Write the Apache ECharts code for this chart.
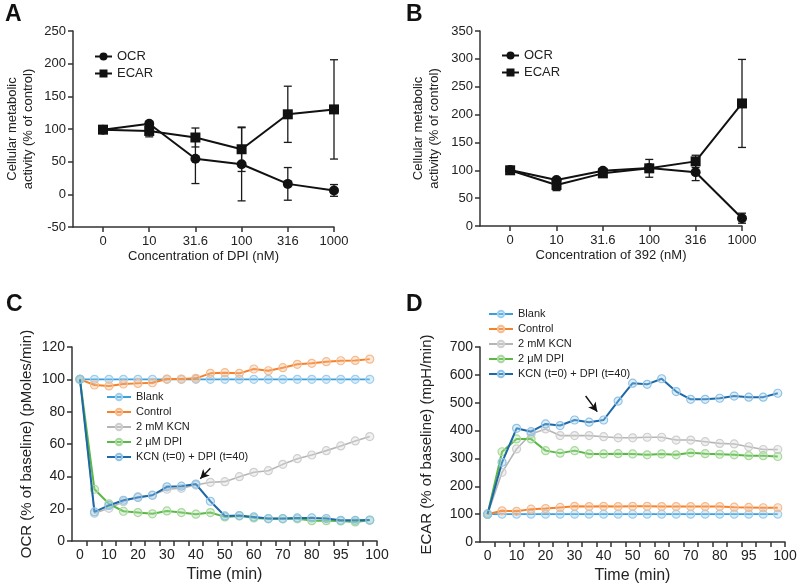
<!DOCTYPE html>
<html><head><meta charset="utf-8">
<script src="https://cdn.jsdelivr.net/npm/echarts@6/dist/echarts.min.js"></script>
<style>html,body{margin:0;padding:0;background:#fff}#c{width:800px;height:588px}</style>
</head><body><div id="c"></div>
<script>
// ---------- Panel A / B data ----------
const catsA = ['0','10','31.6','100','316','1000'];
const ocrA = [99, 108, 54.5, 46, 16, 6];
const ocrErrA = [0, 3, 38, 56, 25, 9];
const ecarA = [99, 97, 87, 69, 122.5, 130];
const ecarErrA = [0, 9, 14.5, 34, 43, 76];

const catsB = ['0','10','31.6','100','316','1000'];
const ocrB = [100.5, 82.5, 99, 104, 96.5, 14];
const ocrErrB = [0, 4, 3, 5, 15, 9];
const ecarB = [100, 73.5, 94.5, 103.5, 116, 220];
const ecarErrB = [0, 10, 4, 16, 11, 79];

// ---------- Panel C / D data ----------
const timeCD = [0,5,10,15,20,25,30,35,40,45,50,55,60,65,70,75,80,85,90,95,100];
const tickPosCD = [2.5,7.5,12.5,17.5,22.5,27.5,32.5,37.5,42.5,47.5,52.5,57.5,62.5,67.5,72.5,77.5,82.5,87.5,92.5,97.5,102.5];
const labelPosCD = [0,10,20,30,40,50,60,70,80,90,102.5];
const labelTextCD = ['0','10','20','30','40','50','60','70','80','95','100'];

const blankC = [100,100,100,100,100,100,100,100,100,100,100,100,100,100,100,100,100,100,100,100,100];
const controlC = [100,96.5,95.9,97.1,97.5,97.9,100.2,100.2,100.6,103.7,104.1,103.7,106.4,105.3,107.2,109.3,109.9,110.9,111.5,111.7,112.5];
const kcnC = [100,17.1,20.2,24.3,27.4,28.4,32,32.6,34.6,36.3,36.7,39.8,42.5,43.5,47.4,50.9,53.2,55.9,58.8,61.9,64.6];
const dpiC = [100,32,23,18.4,17.6,16.8,18.6,17.6,16.6,17.6,14.9,15.5,14.3,13.7,13.7,13.7,12.6,12.6,12.4,11.8,12.8];
const kcnDpiC = [100,18,22,25.2,26.9,28.3,33.5,33.9,35.2,24.6,15.5,15.7,14.9,13.9,13.9,14.3,14.3,13.9,12.8,12.8,13];
const arrowC = [[45,45],[41.5,38.5]];

const blankD = [100,100,100,100,100,100,100,100,100,100,100,100,100,100,100,100,100,100,100,100,100];
const controlD = [100,112,110,118,120,124,128,127,128,127,128,128,127,127,127,127,127,125,124,123,123];
const kcnD = [100,250,334,388,406,382,382,382,378,374,374,376,376,366,366,360,354,352,342,332,332];
const dpiD = [100,324,370,370,328,319,328,316,316,317,316,313,316,313,320,317,315,313,310,310,307];
const kcnDpiD = [100,286,408,396,424,418,438,430,438,506,570,566,586,540,512,512,516,524,520,520,534];
const arrowD = [[33.8,524],[37.8,468]];

const seriesNamesCD = ['Blank','Control','2 mM KCN','2 \u03bcM DPI','KCN (t=0) + DPI (t=40)'];

// ---------- styles ----------
const FONT = '"Liberation Sans", Arial, sans-serif';
const TXT = '#222';
const AX = '#333';
const styleCD = [
  {line:'#3b9fdc', border:'#9fcfee', fill:'rgba(160,205,238,0.35)', w:1.6},
  {line:'#f5822a', border:'#f6bb8e', fill:'rgba(246,190,150,0.35)', w:2},
  {line:'#b5b5b5', border:'#cfcfcf', fill:'rgba(215,215,215,0.35)', w:1.6},
  {line:'#5bb847', border:'#a8d99c', fill:'rgba(170,218,160,0.35)', w:2},
  {line:'#1d68a6', border:'#8fc3e6', fill:'rgba(160,205,238,0.35)', w:2}
];

const chart = echarts.init(document.getElementById('c'), null, {renderer:'canvas'});

function pairs(xs, ys){ return xs.map((x,i)=>[x, ys[i]]); }
function errData(vals, errs){ return vals.map((v,i)=>[i, v-errs[i], v+errs[i]]); }
function errRender(params, api){
  const x = api.value(0), lo = api.value(1), hi = api.value(2);
  const p1 = api.coord([x, hi]), p2 = api.coord([x, lo]);
  const w = 4, st = {stroke:'#1a1a1a', lineWidth:1.3};
  return {type:'group', children:[
    {type:'line', shape:{x1:p1[0],y1:p1[1],x2:p2[0],y2:p2[1]}, style:st},
    {type:'line', shape:{x1:p1[0]-w,y1:p1[1],x2:p1[0]+w,y2:p1[1]}, style:st},
    {type:'line', shape:{x1:p2[0]-w,y1:p2[1],x2:p2[0]+w,y2:p2[1]}, style:st}
  ]};
}

const axisLineS = {show:true, onZero:false, lineStyle:{color:AX, width:1.5}};
const axisTickS = {show:true, inside:false, length:5, lineStyle:{color:AX, width:1.5}};

function catX(gi, cats, name){
  return {type:'value', gridIndex:gi, min:-0.65, max:5, splitLine:{show:false},
    axisLine:axisLineS,
    axisTick:Object.assign({}, axisTickS, {customValues:[0,1,2,3,4,5]}),
    axisLabel:{customValues:[0,1,2,3,4,5], formatter:v=>cats[Math.round(v)], color:TXT, fontSize:13, fontFamily:FONT, margin:8},
    name:name, nameLocation:'middle', nameGap:23,
    nameTextStyle:{color:TXT, fontSize:13, fontFamily:FONT}};
}
function timeX(gi, min){
  return {type:'value', gridIndex:gi, min:min, max:102.5, splitLine:{show:false},
    axisLine:axisLineS,
    axisTick:Object.assign({}, axisTickS, {customValues:tickPosCD}),
    axisLabel:{customValues:labelPosCD, formatter:v=>{const k=labelPosCD.indexOf(v); return k>=0?labelTextCD[k]:'';}, color:TXT, fontSize:14, fontFamily:FONT, margin:7},
    name:'Time (min)', nameLocation:'middle', nameGap:26,
    nameTextStyle:{color:TXT, fontSize:16, fontFamily:FONT}};
}
function valY(gi, min, max, interval, name, gap, fs, lh){
  return {type:'value', gridIndex:gi, min:min, max:max, interval:interval, splitLine:{show:false},
    axisLine:axisLineS, axisTick:axisTickS,
    axisLabel:{color:TXT, fontSize:fs===15?14:13, fontFamily:FONT, margin:7},
    name:name, nameLocation:'middle', nameGap:gap,
    nameTextStyle:{color:TXT, fontSize:fs, fontFamily:FONT, lineHeight:lh}};
}

const series = [];
// A & B
[[0, catsA, ocrA, ocrErrA, ecarA, ecarErrA],[1, catsB, ocrB, ocrErrB, ecarB, ecarErrB]].forEach(([gi, cats, ocr, ocrE, ecar, ecarE])=>{
  series.push({type:'custom', xAxisIndex:gi, yAxisIndex:gi, renderItem:errRender, data:errData(ecar, ecarE), encode:{x:0,y:[1,2]}, z:1, silent:true});
  series.push({type:'custom', xAxisIndex:gi, yAxisIndex:gi, renderItem:errRender, data:errData(ocr, ocrE), encode:{x:0,y:[1,2]}, z:1, silent:true});
  series.push({type:'line', name:'OCR', xAxisIndex:gi, yAxisIndex:gi, data:cats.map((c,i)=>[i, ocr[i]]),
    symbol:'circle', symbolSize:10, lineStyle:{color:'#111', width:2}, itemStyle:{color:'#111'}, z:3});
  series.push({type:'line', name:'ECAR', xAxisIndex:gi, yAxisIndex:gi, data:cats.map((c,i)=>[i, ecar[i]]),
    symbol:'rect', symbolSize:10, lineStyle:{color:'#111', width:2}, itemStyle:{color:'#111'}, z:3});
});
// C & D
[[2, [blankC, controlC, kcnC, dpiC, kcnDpiC], arrowC],[3, [blankD, controlD, kcnD, dpiD, kcnDpiD], arrowD]].forEach(([gi, arrs, arrow])=>{
  arrs.forEach((ys, k)=>{
    const s = styleCD[k];
    const ser = {type:'line', name:seriesNamesCD[k], xAxisIndex:gi, yAxisIndex:gi, data:pairs(timeCD, ys),
      symbol:'circle', symbolSize:8, showAllSymbol:true,
      lineStyle:{color:s.line, width:s.w},
      itemStyle:{color:s.fill, borderColor:s.border, borderWidth:1.2}, z:2+k};
    if (k===4){
      ser.markLine = {silent:true, symbol:['none','arrow'], symbolSize:[7,9], animation:false,
        lineStyle:{color:'#111', width:1.4, type:'solid'}, label:{show:false},
        data:[[{coord:arrow[0]},{coord:arrow[1]}]]};
    }
    series.push(ser);
  });
});

const legendText = {color:TXT, fontFamily:FONT};
const option = {
  animation:false,
  backgroundColor:'#fff',
  title:[
    {text:'A', left:5, top:3, padding:0, textStyle:{fontSize:23, fontWeight:'bold', color:'#111', fontFamily:FONT}},
    {text:'B', left:406, top:3, padding:0, textStyle:{fontSize:23, fontWeight:'bold', color:'#111', fontFamily:FONT}},
    {text:'C', left:6, top:293, padding:0, textStyle:{fontSize:23, fontWeight:'bold', color:'#111', fontFamily:FONT}},
    {text:'D', left:406, top:293, padding:0, textStyle:{fontSize:23, fontWeight:'bold', color:'#111', fontFamily:FONT}}
  ],
  grid:[
    {left:73, top:31, width:261, height:196},
    {left:480, top:31, width:262, height:195},
    {left:72, top:347, width:305, height:194},
    {left:480, top:347, width:305, height:195}
  ],
  xAxis:[
    catX(0, catsA, 'Concentration of DPI (nM)'),
    catX(1, catsB, 'Concentration of 392 (nM)'),
    timeX(2, -2.75),
    timeX(3, -2.6)
  ],
  yAxis:[
    valY(0, -50, 250, 50, 'Cellular metabolic\nactivity (% of control)', 37, 13, 16),
    valY(1, 0, 350, 50, 'Cellular metabolic\nactivity (% of control)', 38, 13, 16),
    valY(2, 0, 120, 20, 'OCR (% of baseline) (pMoles/min)', 37, 15, 16),
    valY(3, 0, 700, 100, 'ECAR (% of baseline) (mpH/min)', 45, 15, 16)
  ],
  legend:[
    {data:['OCR','ECAR'], orient:'vertical', left:94, top:50, itemWidth:17, itemHeight:10, itemGap:4, padding:0, textStyle:Object.assign({fontSize:13, lineHeight:13}, legendText)},
    {data:['OCR','ECAR'], orient:'vertical', left:501, top:49, itemWidth:17, itemHeight:10, itemGap:4, padding:0, textStyle:Object.assign({fontSize:13, lineHeight:13}, legendText)},
    {data:seriesNamesCD, orient:'vertical', left:106, top:391, itemWidth:24, itemHeight:8, itemGap:3, padding:0, textStyle:Object.assign({fontSize:11, lineHeight:12}, legendText)},
    {data:seriesNamesCD, orient:'vertical', left:488, top:308, itemWidth:24, itemHeight:8, itemGap:3, padding:0, textStyle:Object.assign({fontSize:11, lineHeight:12}, legendText)}
  ],
  series:series
};
chart.setOption(option);
</script></body></html>
